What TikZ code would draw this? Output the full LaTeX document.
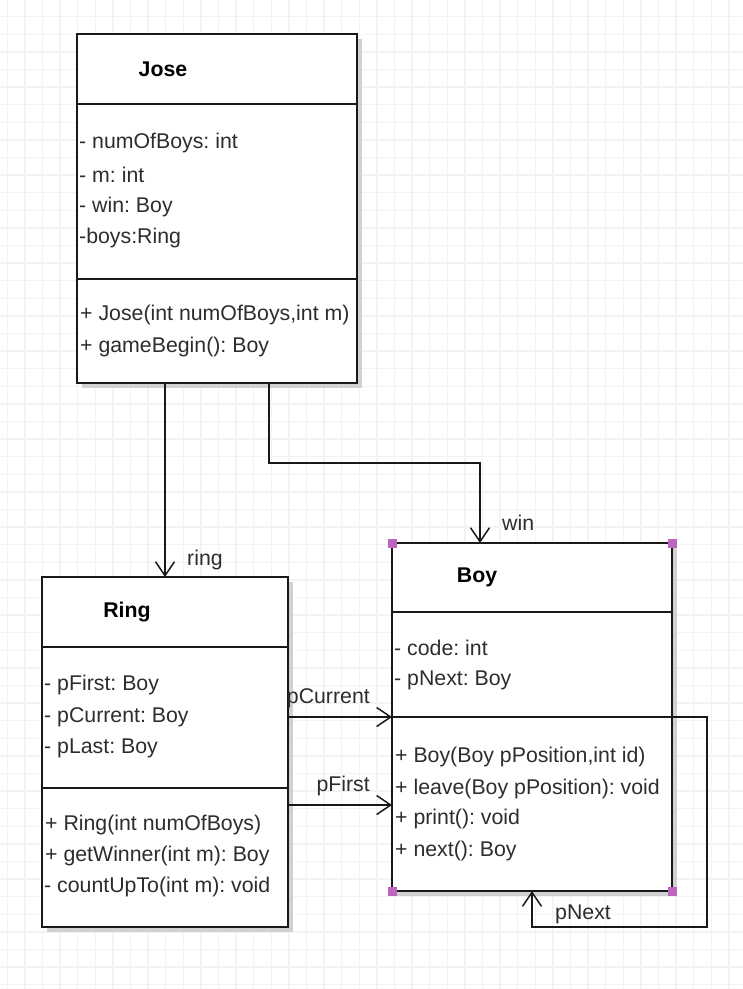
\documentclass[tikz,border=0pt]{standalone}
\usepackage{fontspec}
\setmainfont{Liberation Sans}
\usetikzlibrary{arrows.meta,shadows}

\definecolor{gridgray}{RGB}{243,243,243}
\definecolor{handle}{RGB}{190,100,190}
\definecolor{ink}{RGB}{45,45,45}
\newcommand\umlfont{\fontsize{21.3}{25}\selectfont}
\frenchspacing

\tikzset{
  classbox/.style={draw=black!90, line width=1.6pt, fill=white, inner sep=0pt, outer sep=0pt,
    drop shadow={shadow xshift=5pt, shadow yshift=-5pt, fill=black!18, opacity=1}},
  classline/.style={draw=black!90, line width=1.6pt},
  classname/.style={font=\umlfont\bfseries, text=black, inner sep=0pt},
  member/.style={font=\umlfont, text=ink, anchor=west, inner sep=0pt},
  rolename/.style={font=\umlfont, text=ink, inner sep=0pt},
  assoc/.style={draw=black!90, line width=1.5pt, -{Straight Barb[length=14pt,width=19pt,line width=1.5pt]}},
  gridline/.style={draw=gridgray, line width=1.5pt}
}

\begin{document}
\begin{tikzpicture}[x=1pt,y=-1pt]
\useasboundingbox (0,0) rectangle (743,989);
\fill[white] (0,0) rectangle (743,989);
% background grid
\foreach \k in {0,...,42} \draw[gridline] (7.3+17.6*\k,0) -- (7.3+17.6*\k,989);
\foreach \k in {0,...,56} \draw[gridline] (0,-0.9+17.6*\k) -- (743,-0.9+17.6*\k);

% class boxes
\node[classbox, minimum width=280pt, minimum height=349pt] (jose) at (217,208.5) {};
\node[classbox, minimum width=246pt, minimum height=350pt] (ring) at (165,752) {};
\node[classbox, minimum width=280pt, minimum height=348pt] (boy) at (532,717) {};

\draw[classline] ([yshift=-70pt]jose.north west) -- ([yshift=-70pt]jose.north east);
\draw[classline] ([yshift=-245pt]jose.north west) -- ([yshift=-245pt]jose.north east);
\draw[classline] ([yshift=-70pt]ring.north west) -- ([yshift=-70pt]ring.north east);
\draw[classline] ([yshift=-211pt]ring.north west) -- ([yshift=-211pt]ring.north east);
\draw[classline] ([yshift=-69pt]boy.north west) -- ([yshift=-69pt]boy.north east);
\draw[classline] ([yshift=-174pt]boy.north west) -- ([yshift=-174pt]boy.north east);

% Jose
\node[classname] (josename) at (163,69) {Jose};
\node[member] (jose1) at (79,143) {- numOfBoys: int};
\node[member] (jose2) at (79,175) {- m: int};
\node[member] (jose3) at (79,207) {- win: Boy};
\node[member] (jose4) at (79,238) {-boys:Ring};
\node[member] (jose5) at (80,315) {+ Jose(int numOfBoys,int m)};
\node[member] (jose6) at (80,347) {+ gameBegin(): Boy};

% Ring
\node[classname] (ringname) at (127,612) {Ring};
\node[member] (ring1) at (44,685) {- pFirst: Boy};
\node[member] (ring2) at (44,717) {- pCurrent: Boy};
\node[member] (ring3) at (44,748) {- pLast: Boy};
\node[member] (ring4) at (45,825) {+ Ring(int numOfBoys)};
\node[member] (ring5) at (45,856) {+ getWinner(int m): Boy};
\node[member] (ring6) at (44,887) {- countUpTo(int m): void};

% Boy
\node[classname] (boyname) at (477,577) {Boy};
\node[member] (boy1) at (394,648) {- code: int};
\node[member] (boy2) at (394,680) {- pNext: Boy};
\node[member] (boy3) at (395,757) {+ Boy(Boy pPosition,int id)};
\node[member] (boy4) at (395,789) {+ leave(Boy pPosition): void};
\node[member] (boy5) at (395,819) {+ print(): void};
\node[member] (boy6) at (395,851) {+ next(): Boy};

% associations
\coordinate (pcur) at (392,717);
\coordinate (pfst) at (392,805);
\coordinate (winend) at ([xshift=88pt]boy.north west);
\draw[assoc] (ring.north |- jose.south) -- (ring.north);
\draw[assoc] ([xshift=192pt]jose.south west) -- ++(0,80) -| (winend);
\draw[assoc] (ring.east |- pcur) -- (pcur);
\draw[assoc] (ring.east |- pfst) -- (pfst);
\draw[assoc] (boy.east |- pcur) -- ++(35,0) |- ([yshift=-36pt]boy.south) -- (boy.south);

\node[rolename, anchor=west] (ringrole) at (187,560) {ring};
\node[rolename, anchor=west] (winrole) at (502,523) {win};
\node[rolename, anchor=east] (pcurrole) at (370,698) {pCurrent};
\node[rolename, anchor=east] (pfstrole) at (370,786) {pFirst};
\node[rolename, anchor=west] (pnextrole) at (555,914) {pNext};

% selection handles
\foreach \c in {north west,north east,south west,south east}
  \fill[handle] ([shift={(-4.5,-4.5)}]boy.\c) rectangle ([shift={(4.5,4.5)}]boy.\c);
\end{tikzpicture}
\end{document}
